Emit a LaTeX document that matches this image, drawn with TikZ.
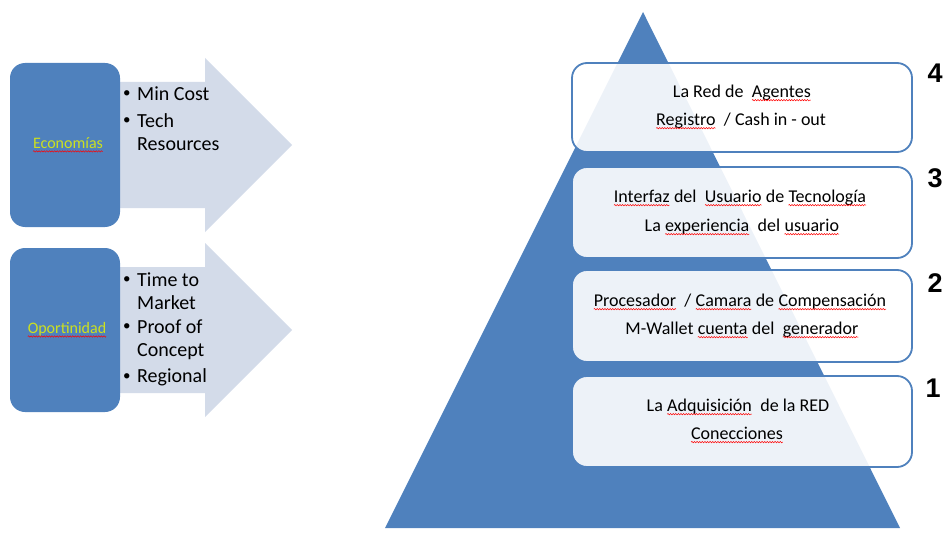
\documentclass[tikz,border=0pt]{standalone}
\usepackage{fontspec}
\setmainfont{Carlito}
\newfontfamily\numfont{Liberation Sans}
\usetikzlibrary{decorations.pathmorphing}
\definecolor{pyr}{RGB}{79,129,189}
\definecolor{arw}{RGB}{211,219,233}
\definecolor{lbl}{RGB}{205,225,30}
\newcommand\wavy[1]{\tikz[baseline=(w.base)]{\node[inner sep=0pt,outer sep=0pt](w){#1};\draw[red,line width=0.5pt,decorate,decoration={snake,amplitude=0.7pt,segment length=2.6pt}]([yshift=-2.8pt]w.base west)--([yshift=-2.8pt]w.base east);}}
\tikzset{
  tier/.style={draw=pyr,line width=1.8pt,rounded corners=15pt,fill=white,fill opacity=0.9},
  tiertext/.style={font=\fontsize{18}{28}\selectfont,align=center,text=black,text opacity=1},
  side/.style={fill=pyr,rounded corners=15pt},
  sidelbl/.style={font=\fontsize{16}{18}\selectfont,text=lbl},
  bul/.style={font=\fontsize{20}{22}\selectfont,anchor=west,inner sep=0pt},
  bdot/.style={font=\fontsize{15}{18}\selectfont,anchor=west,inner sep=0pt},
  num/.style={font=\numfont\bfseries\fontsize{27}{30}\selectfont},
  arrowbody/.style={fill=arw}
}
\begin{document}
\begin{tikzpicture}[x=1pt,y=-1pt]
\useasboundingbox (0,0) rectangle (952,540);
% arrows
\path[arrowbody] (100,82)--(205,82)--(205,58)--(292,145)--(205,232)--(205,208)--(100,208)--cycle;
\path[arrowbody] (100,267)--(205,267)--(205,243)--(292,330)--(205,417)--(205,393)--(100,393)--cycle;
% side boxes
\path[side] (10,63) rectangle (120,227);
\path[side] (10,248) rectangle (120,412);
\node[sidelbl] (eco) at (68,145) {\wavy{Economías}};
\node[sidelbl] (opo) at (67,330) {\wavy{Oportinidad}};
% bullets
\node[bdot] (b1) at (123,94) {•};
\node[bul] (t1) at (137,94) {Min Cost};
\node[bdot] (b2) at (123,121) {•};
\node[bul] (t2) at (137,121) {Tech};
\node[bul] (t3) at (137,144) {Resources};
\node[bdot] (b3) at (123,280) {•};
\node[bul] (t4) at (137,280) {Time to};
\node[bul] (t5) at (137,303) {Market};
\node[bdot] (b4) at (123,327) {•};
\node[bul] (t6) at (137,327) {Proof of};
\node[bul] (t7) at (137,352) {Concept};
\node[bdot] (b5) at (123,377) {•};
\node[bul] (t8) at (137,377) {Regional};
% pyramid
\fill[pyr] (643,12)--(900,528)--(385,528)--cycle;
% tiers
\path[tier] (572,63) rectangle (912,152);
\path[tier] (572,167) rectangle (912,258);
\path[tier] (572,270) rectangle (912,362);
\path[tier] (572,376) rectangle (912,467);
\node[tiertext] (r4a) at (742,93) {La Red de\ \ \wavy{Agentes}};
\node[tiertext] (r4b) at (741,121) {\wavy{Registro}\ \ / Cash in - out};
\node[tiertext] (r3a) at (740,198) {\wavy{Interfaz} del\ \ \wavy{Usuario} de \wavy{Tecnología}};
\node[tiertext] (r3b) at (742,227) {La \wavy{experiencia}\ \ del \wavy{usuario}};
\node[tiertext] (r2a) at (740,302) {\wavy{Procesador}\ \ / \wavy{Camara}\ de \wavy{Compensación}};
\node[tiertext] (r2b) at (742,330) {M-Wallet \wavy{cuenta}\ del\ \ \wavy{generador}};
\node[tiertext] (r1a) at (738,407) {La \wavy{Adquisición}\ \ de la RED};
\node[tiertext] (r1b) at (737,435) {\wavy{Conecciones}};
% numbers
\node[num] (n4) at (935,73) {4};
\node[num] (n3) at (935,178) {3};
\node[num] (n2) at (935,283) {2};
\node[num] (n1) at (933,388) {1};
\end{tikzpicture}
\end{document}
